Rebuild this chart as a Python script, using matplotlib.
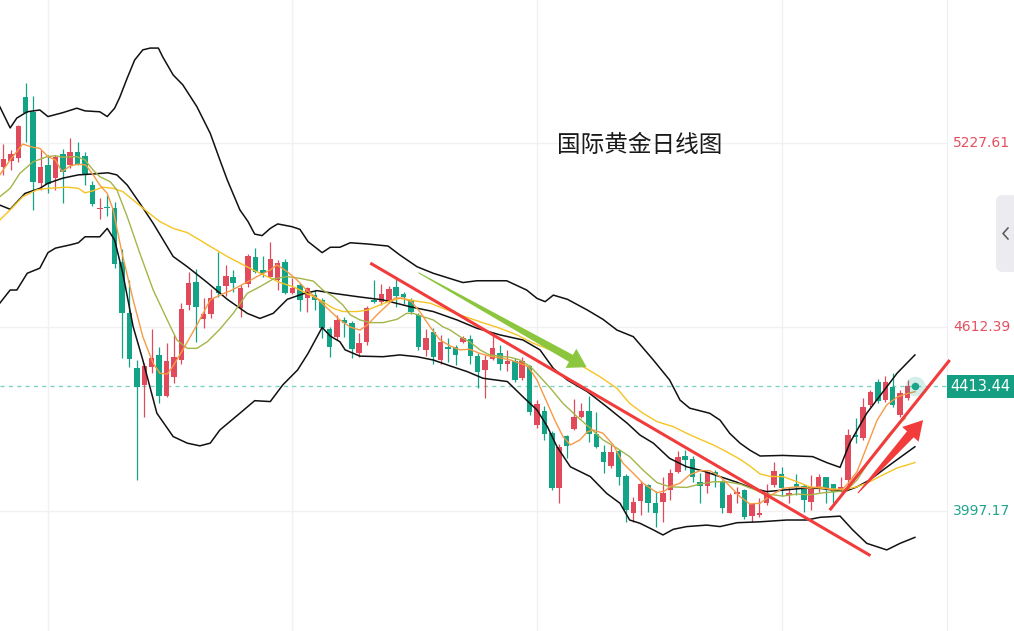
import numpy as np
import matplotlib.pyplot as plt
from matplotlib.patches import Polygon, Rectangle, FancyBboxPatch
from matplotlib.transforms import IdentityTransform, blended_transform_factory
from matplotlib.lines import Line2D

plt.rcParams['font.family'] = ['Noto Sans CJK SC', 'DejaVu Sans']

# daily candles, red = up, green = down
opens = [5147, 5167, 5177, 5381, 5331, 5094, 5154, 5111, 5191, 5154,
         5198, 5184, 5087, 5007, 5014, 5010, 4830, 4659, 4475, 4418,
         4479, 4519, 4382, 4445, 4502, 4686, 4763, 4639, 4656, 4749,
         4749, 4780, 4676, 4756, 4846, 4803, 4780, 4770, 4830, 4726,
         4753, 4709, 4719, 4703, 4606, 4579, 4636, 4626, 4525, 4562,
         4703, 4696, 4699, 4746, 4723, 4703, 4653, 4536, 4596, 4502,
         4546, 4546, 4562, 4572, 4515, 4469, 4505, 4525, 4489, 4499,
         4442, 4482, 4285, 4331, 4258, 4074, 4248, 4271, 4311, 4331,
         4255, 4194, 4148, 4198, 4114, 3991, 4031, 4084, 4024, 4027,
         4067, 4128, 4181, 4171, 4094, 4081, 4128, 4094, 3991, 4054,
         4067, 3980, 3984, 4024, 4084, 4121, 4051, 4087, 4081, 4027,
         4071, 4111, 4087, 4067, 4101, 4251, 4241, 4352, 4428, 4368,
         4412, 4318, 4375]
highs = [5224, 5204, 5288, 5428, 5385, 5204, 5188, 5188, 5208, 5244,
         5231, 5198, 5101, 5044, 5054, 5030, 4873, 4770, 4502, 4492,
         4606, 4546, 4559, 4586, 4693, 4796, 4806, 4709, 4739, 4863,
         4820, 4803, 4753, 4856, 4877, 4850, 4897, 4836, 4840, 4776,
         4760, 4746, 4736, 4709, 4612, 4653, 4646, 4632, 4592, 4683,
         4770, 4756, 4749, 4776, 4729, 4709, 4659, 4606, 4609, 4586,
         4576, 4552, 4582, 4586, 4525, 4519, 4592, 4552, 4535, 4509,
         4512, 4485, 4368, 4348, 4265, 4221, 4251, 4372, 4358, 4382,
         4328, 4218, 4218, 4204, 4121, 4044, 4097, 4087, 4064, 4111,
         4138, 4198, 4201, 4181, 4124, 4131, 4134, 4101, 4057, 4077,
         4071, 4024, 4041, 4087, 4161, 4144, 4077, 4121, 4087, 4118,
         4121, 4111, 4087, 4111, 4271, 4308, 4375, 4402, 4439, 4449,
         4459, 4402, 4435]
lows = [5121, 5137, 5164, 5231, 5004, 5070, 5060, 5070, 5027, 5144,
        5154, 5087, 5017, 4974, 4984, 4810, 4509, 4479, 4101, 4311,
        4459, 4358, 4378, 4425, 4489, 4669, 4562, 4609, 4642, 4713,
        4716, 4729, 4646, 4746, 4793, 4780, 4776, 4736, 4723, 4723,
        4666, 4663, 4669, 4576, 4512, 4569, 4579, 4509, 4512, 4552,
        4693, 4686, 4693, 4679, 4689, 4656, 4536, 4515, 4489, 4489,
        4495, 4485, 4559, 4489, 4408, 4375, 4502, 4469, 4465, 4428,
        4435, 4318, 4275, 4235, 4067, 4024, 4174, 4268, 4308, 4228,
        4208, 4124, 4141, 4084, 3960, 3960, 3984, 3994, 3944, 3960,
        4034, 4124, 4134, 4094, 4024, 4057, 4077, 3990, 3990, 4024,
        3970, 3960, 3977, 4017, 4077, 4047, 4024, 4051, 3994, 4000,
        4061, 4024, 4024, 4061, 4077, 4224, 4235, 4345, 4358, 4362,
        4345, 4311, 4368]
closes = [5174, 5191, 5284, 5328, 5097, 5147, 5091, 5181, 5131, 5198,
          5157, 5121, 5024, 5010, 5010, 4823, 4659, 4505, 4412, 4482,
          4509, 4382, 4499, 4512, 4673, 4760, 4679, 4656, 4709, 4726,
          4783, 4760, 4743, 4850, 4796, 4793, 4840, 4826, 4726, 4743,
          4703, 4743, 4703, 4609, 4546, 4636, 4626, 4539, 4559, 4676,
          4696, 4723, 4739, 4716, 4713, 4663, 4546, 4576, 4512, 4562,
          4539, 4519, 4576, 4515, 4462, 4502, 4542, 4489, 4499, 4435,
          4499, 4328, 4355, 4255, 4074, 4211, 4214, 4311, 4331, 4255,
          4211, 4161, 4194, 4111, 4000, 4027, 4087, 4024, 3990, 4057,
          4124, 4178, 4168, 4111, 4081, 4128, 4118, 4007, 4051, 4061,
          3977, 4021, 3991, 4057, 4131, 4074, 4057, 4077, 4034, 4077,
          4111, 4071, 4061, 4077, 4251, 4245, 4345, 4395, 4365, 4428,
          4352, 4392, 4413.44]

# bollinger bands (black)
upper_x = [-0.5, 0.9, 1.8, 3.2, 4.9, 6.0, 8.0, 9.9, 11.0, 13.0, 14.0, 15.0, 15.7, 16.7, 17.7,
           18.8, 19.8, 20.9, 21.5, 22.9, 24.2, 26.1, 27.9, 29.2, 30.2, 31.9, 33.0, 33.9, 34.9,
           36.0, 37.0, 38.9, 40.0, 41.1, 43.0, 44.1, 45.4, 46.8, 49.1, 51.9, 53.5, 55.8, 58.0,
           62.0, 63.9, 67.9, 70.6, 72.0, 73.1, 74.2, 76.1, 78.8, 80.9, 82.8, 85.0, 87.7, 89.9,
           91.3, 92.6, 95.3, 96.7, 98.0, 99.4, 100.7, 102.1, 105.2, 109.2, 111.1, 112.9, 114.2,
           116.5, 118.7, 120.6, 123.0]
upper_y = [5349, 5278, 5311, 5332, 5338, 5316, 5329, 5344, 5335, 5332, 5316, 5344, 5381, 5445, 5505,
           5539, 5545, 5545, 5515, 5455, 5422, 5349, 5260, 5171, 5104, 5004, 4965, 4923, 4918,
           4942, 4957, 4948, 4939, 4898, 4861, 4879, 4879, 4894, 4890, 4883, 4853, 4814, 4792,
           4761, 4767, 4767, 4736, 4708, 4697, 4719, 4705, 4669, 4638, 4602, 4580, 4502, 4435,
           4368, 4341, 4324, 4301, 4257, 4224, 4201, 4181, 4183, 4179, 4159, 4143, 4224,
           4324, 4396, 4458, 4519]
mid_x = [-0.5, 0.9, 2.9, 4.9, 6.0, 8.0, 10.1, 12.1, 14.1, 15.3, 16.7, 18.4, 20.2, 22.9, 24.8,
         27.5, 30.2, 32.9, 34.6, 36.4, 38.3, 40.4, 42.3, 44.5, 47.7, 51.2, 54.9, 58.0, 61.2,
         63.9, 67.0, 70.1, 72.4, 74.2, 76.1, 78.8, 81.4, 84.2, 85.9, 87.7, 89.9, 92.2, 94.4,
         96.7, 98.9, 101.1, 103.0, 105.2, 107.9, 110.2, 112.5, 113.8, 115.2, 116.9, 119.6, 123.0]
mid_y = [5020, 5006, 5059, 5076, 5093, 5110, 5121, 5124, 5128, 5121, 5087, 5026, 4959, 4848, 4814,
         4761, 4705, 4658, 4641, 4658, 4705, 4723, 4734, 4725, 4714, 4703, 4680, 4664, 4636,
         4608, 4586, 4569, 4536, 4474, 4435, 4396, 4346, 4290, 4251, 4224, 4173, 4145, 4131,
         4112, 4094, 4073, 4062, 4067, 4073, 4073, 4065, 4065, 4078, 4101, 4151, 4212]
lower_x = [-0.5, 0.9, 1.8, 3.2, 4.9, 6.0, 7.0, 9.0, 10.1, 11.0, 13.0, 14.0, 15.0, 16.1, 17.5,
           18.8, 20.7, 22.9, 24.8, 26.5, 27.9, 29.2, 31.9, 33.9, 36.0, 37.7, 39.7, 41.1, 43.0,
           44.1, 45.4, 46.1, 48.1, 51.2, 53.5, 55.8, 58.0, 60.3, 62.6, 64.7, 68.0, 70.1, 72.0,
           73.4, 74.7, 76.5, 79.2, 81.4, 83.2, 84.5, 85.9, 87.7, 89.0, 90.4, 92.2, 94.9, 96.7,
           99.0, 102.1, 105.7, 108.4, 110.2, 112.9, 114.6, 116.5, 119.2, 121.0, 123.0]
lower_y = [4692, 4736, 4736, 4792, 4809, 4861, 4876, 4887, 4894, 4914, 4914, 4942, 4903, 4792, 4613,
           4502, 4324, 4246, 4224, 4215, 4224, 4268, 4324, 4366, 4363, 4419, 4469, 4524, 4611,
           4582, 4563, 4536, 4515, 4513, 4519, 4513, 4502, 4482, 4463, 4441, 4430, 4379, 4335,
           4279, 4212, 4145, 4112, 4056, 4023, 3967, 3956, 3934, 3917, 3936, 3945, 3950, 3945,
           3958, 3961, 3967, 3967, 3976, 3980, 3934, 3889, 3867, 3889, 3909]

# moving averages
orange_x = [-0.5, 0.9, 2.6, 4.0, 4.9, 6.0, 7.0, 7.9, 9.0, 10.1, 11.1, 12.1, 13.0, 14.0, 14.8,
            16.0, 17.5, 18.8, 20.2, 21.1, 22.1, 22.9, 24.2, 26.1, 27.9, 29.2, 30.6, 32.6, 34.6,
            36.0, 36.9, 38.3, 39.6, 40.9, 42.3, 43.7, 45.4, 46.8, 48.1, 49.1, 50.4, 51.8, 52.8,
            53.9, 55.1, 56.2, 57.6, 58.9, 60.3, 61.6, 62.9, 64.3, 65.6, 67.0, 68.4, 69.7, 70.8,
            72.0, 73.4, 74.4, 75.5, 76.5, 77.8, 78.8, 79.6, 80.9, 82.3, 83.6, 85.0, 86.3, 88.2,
            89.3, 89.9, 91.3, 92.6, 94.0, 95.3, 96.7, 98.0, 99.4, 100.7, 102.1, 103.4, 105.2,
            107.1, 108.8, 110.2, 111.9, 113.2, 114.0, 115.2, 116.5, 117.9, 119.2, 120.6, 121.7, 123.0]
orange_y = [5121, 5171, 5224, 5213, 5210, 5182, 5171, 5132, 5151, 5157, 5154, 5121, 5087, 5059, 5004,
            4859, 4703, 4580, 4491, 4458, 4455, 4482, 4536, 4619, 4703, 4719, 4733, 4759, 4786,
            4803, 4820, 4797, 4770, 4736, 4708, 4675, 4636, 4612, 4602, 4619, 4653, 4686, 4709,
            4709, 4696, 4663, 4612, 4569, 4549, 4536, 4538, 4524, 4515, 4509, 4502, 4491, 4480,
            4435, 4357, 4301, 4246, 4218, 4235, 4262, 4268, 4257, 4218, 4157, 4123, 4090, 4058,
            4065, 4078, 4090, 4118, 4132, 4132, 4112, 4081, 4045, 4021, 4023, 4047, 4073,
            4078, 4073, 4078, 4067, 4070, 4090, 4129, 4212, 4301, 4352, 4378, 4388, 4396]
olive_x = [-0.5, 0.9, 2.2, 4.0, 5.9, 7.0, 8.0, 9.9, 11.0, 12.1, 13.0, 14.4, 15.3, 16.7, 18.4,
           20.2, 22.1, 23.4, 24.8, 26.1, 27.5, 29.2, 31.0, 32.9, 34.6, 36.4, 38.3, 40.0, 41.8,
           43.1, 44.5, 45.8, 46.8, 48.1, 49.5, 51.2, 53.1, 54.4, 55.3, 56.6, 58.0, 59.3, 60.3,
           61.6, 62.9, 64.3, 65.6, 67.0, 68.4, 69.7, 71.1, 72.4, 73.8, 75.5, 77.4, 79.2, 80.9,
           82.8, 84.5, 86.3, 88.2, 89.9, 92.2, 94.0, 95.8, 97.6, 99.4, 101.2, 102.5, 103.9,
           105.2, 107.1, 108.8, 110.6, 112.5, 113.8, 115.2, 116.5, 117.9, 119.6, 121.7]
olive_y = [5048, 5076, 5126, 5165, 5182, 5185, 5180, 5182, 5171, 5137, 5115, 5098, 5071, 4981, 4859,
           4736, 4636, 4569, 4541, 4541, 4563, 4605, 4658, 4725, 4747, 4773, 4781, 4775, 4766,
           4736, 4714, 4686, 4653, 4636, 4627, 4627, 4638, 4658, 4658, 4647, 4636, 4613, 4602,
           4580, 4563, 4536, 4519, 4515, 4511, 4502, 4480, 4446, 4408, 4357, 4313, 4274, 4235,
           4207, 4179, 4134, 4092, 4078, 4076, 4087, 4095, 4095, 4087, 4070, 4056, 4051,
           4047, 4054, 4051, 4058, 4062, 4067, 4101, 4151, 4201, 4257, 4308]
yellow_x = [-0.5, 0.9, 2.6, 4.5, 6.0, 8.6, 10.1, 11.0, 12.1, 13.4, 14.8, 16.1, 17.5, 19.4, 21.1,
            22.9, 24.8, 26.5, 28.3, 30.2, 31.9, 33.7, 35.6, 37.3, 39.1, 40.9, 42.7, 44.5, 45.8,
            47.7, 49.1, 50.8, 52.2, 53.5, 54.9, 56.2, 57.6, 58.9, 61.6, 64.3, 67.0, 69.3, 71.5,
            73.8, 76.1, 78.2, 80.5, 82.8, 84.5, 86.3, 88.2, 90.4, 92.2, 94.0, 95.8, 97.6, 99.4,
            100.7, 102.1, 103.4, 105.2, 107.1, 108.8, 110.6, 112.5, 113.8, 115.2, 116.9, 118.7,
            120.6, 123.0]
yellow_y = [4970, 5004, 5048, 5071, 5076, 5080, 5076, 5061, 5068, 5080, 5076, 5065, 5037, 4998, 4965,
            4942, 4928, 4903, 4876, 4848, 4826, 4803, 4781, 4761, 4747, 4725, 4703, 4675, 4664,
            4664, 4669, 4686, 4700, 4708, 4703, 4697, 4692, 4679, 4653, 4630, 4608, 4586, 4558,
            4536, 4508, 4480, 4446, 4407, 4357, 4324, 4296, 4279, 4257, 4237, 4218, 4195, 4170,
            4148, 4121, 4113, 4112, 4095, 4078, 4073, 4070, 4070, 4078, 4095, 4118,
            4141, 4159]

# hand drawn marks
down_line_x = [49.5, 117.0]
down_line_y = [4826, 3848]
up_line_x = [111.5, 127.7]
up_line_y = [4000, 4502]
green_arrow = [(56.0, 4794), (78.7, 4478)]
red_arrow = [(115.3, 4057), (124.1, 4301)]

price_levels = [5227.61, 4612.39, 3997.17]
level_labels = ['5227.61', '4612.39', '3997.17']
level_colors = ['#e3505f', '#e3505f', '#1fa58b']
grid_days = [6, 39, 72, 105]
last_price = 4413.44
title = '国际黄金日线图'

UP = '#e04a5a'
DOWN = '#13a386'

fig = plt.figure(figsize=(10.14, 6.31), dpi=100)
ax = fig.add_axes([0, 0, 947 / 1014, 1])
ax.set_xlim(-0.472, 127.33)
ax.set_ylim(3595.9, 5705.74)

ax.set_xticks(grid_days)
ax.set_yticks(price_levels)
ax.grid(True, color='#f1f1f4', lw=1.0)
ax.tick_params(length=0, labelbottom=False, labelleft=False)
for s in ['top', 'left', 'bottom']:
    ax.spines[s].set_visible(False)
ax.spines['right'].set_color('#eeeeee')
ax.set_axisbelow(True)

# candles
idx = np.arange(len(opens))
o = np.array(opens, dtype=float)
c = np.array(closes, dtype=float)
cols = [UP if cc >= oo else DOWN for oo, cc in zip(o, c)]
ax.vlines(idx, lows, highs, colors=cols, lw=0.9, zorder=2)
ax.bar(idx, np.maximum(np.abs(c - o), 4), bottom=np.minimum(o, c), width=0.74,
       color=cols, linewidth=0, zorder=2)

# lines
ax.plot(upper_x, upper_y, color='#111111', lw=1.1, zorder=3)
ax.plot(mid_x, mid_y, color='#111111', lw=1.1, zorder=3)
ax.plot(lower_x, lower_y, color='#111111', lw=1.1, zorder=3)
ax.plot(yellow_x, yellow_y, color='#f7c423', lw=1.0, zorder=3)
ax.plot(olive_x, olive_y, color='#a4b548', lw=1.0, zorder=3)
ax.plot(orange_x, orange_y, color='#f69a45', lw=1.0, zorder=3)

# last price line
ax.axhline(last_price, color='#7fd3c5', lw=1.0, ls=(0, (3, 3)), zorder=1)

# trend lines
ax.plot(down_line_x, down_line_y, color='#f23b3b', lw=2.2, zorder=5, solid_capstyle='butt')
ax.plot(up_line_x, up_line_y, color='#f23b3b', lw=2.2, zorder=5, solid_capstyle='butt',
        clip_on=False)


def tapered_arrow(tail, tip, w_tail, w_neck, head_w, head_len, color):
    p0 = ax.transData.transform(tail)
    p1 = ax.transData.transform(tip)
    d = p1 - p0
    u = d / np.hypot(*d)
    n = np.array([-u[1], u[0]])
    neck = p1 - u * head_len
    pts = [p0 + n * w_tail / 2, neck + n * w_neck / 2, neck + n * head_w / 2, p1,
           neck - n * head_w / 2, neck - n * w_neck / 2, p0 - n * w_tail / 2]
    fig.patches.append(Polygon(pts, closed=True, facecolor=color, edgecolor='none',
                               transform=IdentityTransform(), zorder=6))


tapered_arrow(green_arrow[0], green_arrow[1], 1.0, 8, 22, 18, '#8cc63f')
tapered_arrow(red_arrow[0], red_arrow[1], 1.0, 9, 22, 19, '#f23b3b')

# pulse dot on the last close
ax.scatter([123.0], [last_price], s=200, color='#1aa58a', alpha=0.18, lw=0, zorder=6)
ax.scatter([123.0], [last_price], s=30, color='#1aa58a', lw=0, zorder=7)

# title
ax.text(640 / 947, 1 - 146 / 631, title, transform=ax.transAxes, fontsize=17,
        color='#1a1a1a', ha='center', va='center')

# right price scale
tr = blended_transform_factory(ax.transAxes, ax.transData)
for lv, lab, col in zip(price_levels, level_labels, level_colors):
    ax.text(1 + 6 / 947, lv, lab, transform=tr, fontsize=10, color=col,
            ha='left', va='center', family='DejaVu Sans', clip_on=False)

yd = ax.transData.transform((0, last_price))[1]
fig.patches.append(Rectangle((947, yd - 11.5), 67, 23, facecolor='#149f82', edgecolor='none',
                             transform=IdentityTransform()))
fig.text(980 / 1014, yd / 631, f'{last_price:.2f}', color='white', fontsize=10.5,
         ha='center', va='center', family='DejaVu Sans', weight='medium')

# side tab
fig.patches.append(FancyBboxPatch((996, 631 - 272), 30, 77,
                                  boxstyle='round,pad=0,rounding_size=7',
                                  facecolor='#ebebf0', edgecolor='none',
                                  transform=IdentityTransform()))
fig.lines.append(Line2D([1008, 1003, 1008], [631 - 228, 631 - 233.5, 631 - 239],
                        color='#555555', lw=1.1, transform=IdentityTransform()))

fig.savefig('out.png', dpi=100)
